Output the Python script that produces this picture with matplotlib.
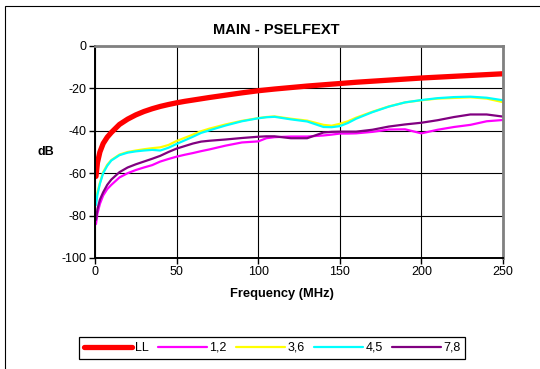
import matplotlib
matplotlib.use("Agg")
import matplotlib.pyplot as plt
from matplotlib.patches import Rectangle

plt.rcParams['font.family'] = ['Liberation Sans', 'DejaVu Sans']

freq = [0.6, 1.5, 3, 5, 7.5, 10, 15, 20, 25, 30, 35, 40, 45, 50, 55, 60, 65, 70, 80, 90,
        100, 105, 110, 120, 130, 140, 145, 150, 155, 160, 170, 180, 190, 200, 210, 220,
        230, 240, 250]

ll = [-61.5, -55, -50, -46, -43, -40.8, -37, -34.5, -32.5, -30.9, -29.6, -28.5, -27.6,
      -26.8, -26.1, -25.5, -24.9, -24.3, -23.2, -22.1, -21.1, -20.7, -20.3, -19.6, -18.9,
      -18.3, -18.0, -17.7, -17.4, -17.1, -16.6, -16.1, -15.6, -15.1, -14.7, -14.3, -13.9,
      -13.5, -13.1]

s12 = [-84, -79, -74.5, -70.5, -67.5, -65.5, -62, -60, -58.5, -57.3, -56.2, -54.5, -53.3,
       -52.2, -51.3, -50.5, -49.6, -48.8, -47, -45.5, -45, -43.5, -43, -42.7, -42.7,
       -42.2, -41.8, -41.3, -41.3, -41.2, -40.5, -39.4, -39.3, -41.2, -39.5, -38.2, -37.2,
       -35.5, -34.9]

s36 = [-73, -69, -64.5, -59.5, -56, -53.8, -51.2, -50, -49.3, -48.7, -48.2, -47.8, -46.7,
       -44.8, -43.3, -41.8, -40.2, -39, -37, -35.3, -34, -33.5, -33.2, -34.3, -35.2,
       -37.2, -37.6, -36.7, -35.5, -33.8, -31, -28.5, -26.6, -25.6, -24.8, -24.5, -24.2,
       -24.8, -26.5]

s45 = [-75, -70, -65, -60, -56.5, -54, -51.5, -50.3, -49.7, -49.3, -49, -49.3, -48,
       -46.2, -44.5, -42.8, -41, -39.8, -37.5, -35.5, -34.1, -33.6, -33.4, -34.6, -35.6,
       -38.2, -38.3, -37.8, -36.3, -34.3, -31.2, -28.6, -26.6, -25.5, -24.6, -24.1, -23.9,
       -24.4, -25.6]

s78 = [-82, -77, -72.5, -69, -65.5, -63, -59.5, -57.3, -55.8, -54.5, -53.2, -51.8, -50,
       -48.4, -47.2, -46, -45.1, -44.7, -44.1, -43.4, -42.8, -42.6, -42.6, -43.5, -43.5,
       -40.8, -40.5, -40.4, -40.4, -40.4, -39.5, -38, -37, -36.2, -35, -33.5, -32.3,
       -32.3, -33.3]

labels = ["LL", "1,2", "3,6", "4,5", "7,8"]
series = [ll, s12, s36, s45, s78]
colors = ["#FF0000", "#FF00FF", "#FFFF00", "#00FFFF", "#800080"]
widths = [3.8, 1.6, 1.6, 1.6, 1.6]

xticks = [0, 50, 100, 150, 200, 250]
yticks = [0, -20, -40, -60, -80, -100]

W, H = 540, 369
fig = plt.figure(figsize=(W / 100, H / 100), dpi=100)
fig.patch.set_facecolor("white")

# outer border
fig.patches.append(Rectangle((5 / W, -0.1), 1.2, 1.1 - 6 / H + 0.0, transform=fig.transFigure,
                             fill=False, edgecolor="black", linewidth=0.8))

ax = fig.add_axes([95 / W, 1 - 258 / H, (503 - 95) / W, (258 - 46) / H])
ax.set_facecolor("white")

lines = []
for y, c, lw, lab in zip(series, colors, widths, labels):
    ln, = ax.plot(freq, y, color=c, linewidth=lw, label=lab, solid_capstyle="round")
    lines.append(ln)

ax.set_xlim(0, 250)
ax.set_ylim(-100, 0)
ax.set_xticks(xticks)
ax.set_yticks(yticks)
ax.set_xticklabels([str(v) for v in xticks], fontsize=9)
ax.set_yticklabels([str(v) for v in yticks], fontsize=9)
ax.grid(True, color="black", linewidth=0.8)
ax.set_axisbelow(True)
ax.tick_params(direction="out", length=4, width=1, color="black", pad=2)

for side in ["left", "bottom"]:
    ax.spines[side].set_color("black")
    ax.spines[side].set_linewidth(1.4)
for side in ["top", "right"]:
    ax.spines[side].set_color("#808080")
    ax.spines[side].set_linewidth(2)

fig.text(276 / W, 1 - 30 / H, "MAIN - PSELFEXT", ha="center", va="center",
         fontsize=10.5, fontweight="bold")
fig.text(45.5 / W, 1 - 152 / H, "dB", ha="center", va="center",
         fontsize=9, fontweight="bold")
fig.text(282 / W, 1 - 294.5 / H, "Frequency (MHz)", ha="center", va="center",
         fontsize=9.3, fontweight="bold")

leg = fig.legend(handles=lines, labels=labels, loc="center",
                 bbox_to_anchor=(272 / W, 1 - 348 / H), ncol=5, fontsize=9,
                 frameon=True, fancybox=False, edgecolor="black", framealpha=1,
                 handlelength=3.9, handletextpad=0.2, columnspacing=0.75,
                 borderpad=0.4)
leg.get_frame().set_linewidth(0.9)

fig.savefig("out.png", dpi=100, facecolor="white")
